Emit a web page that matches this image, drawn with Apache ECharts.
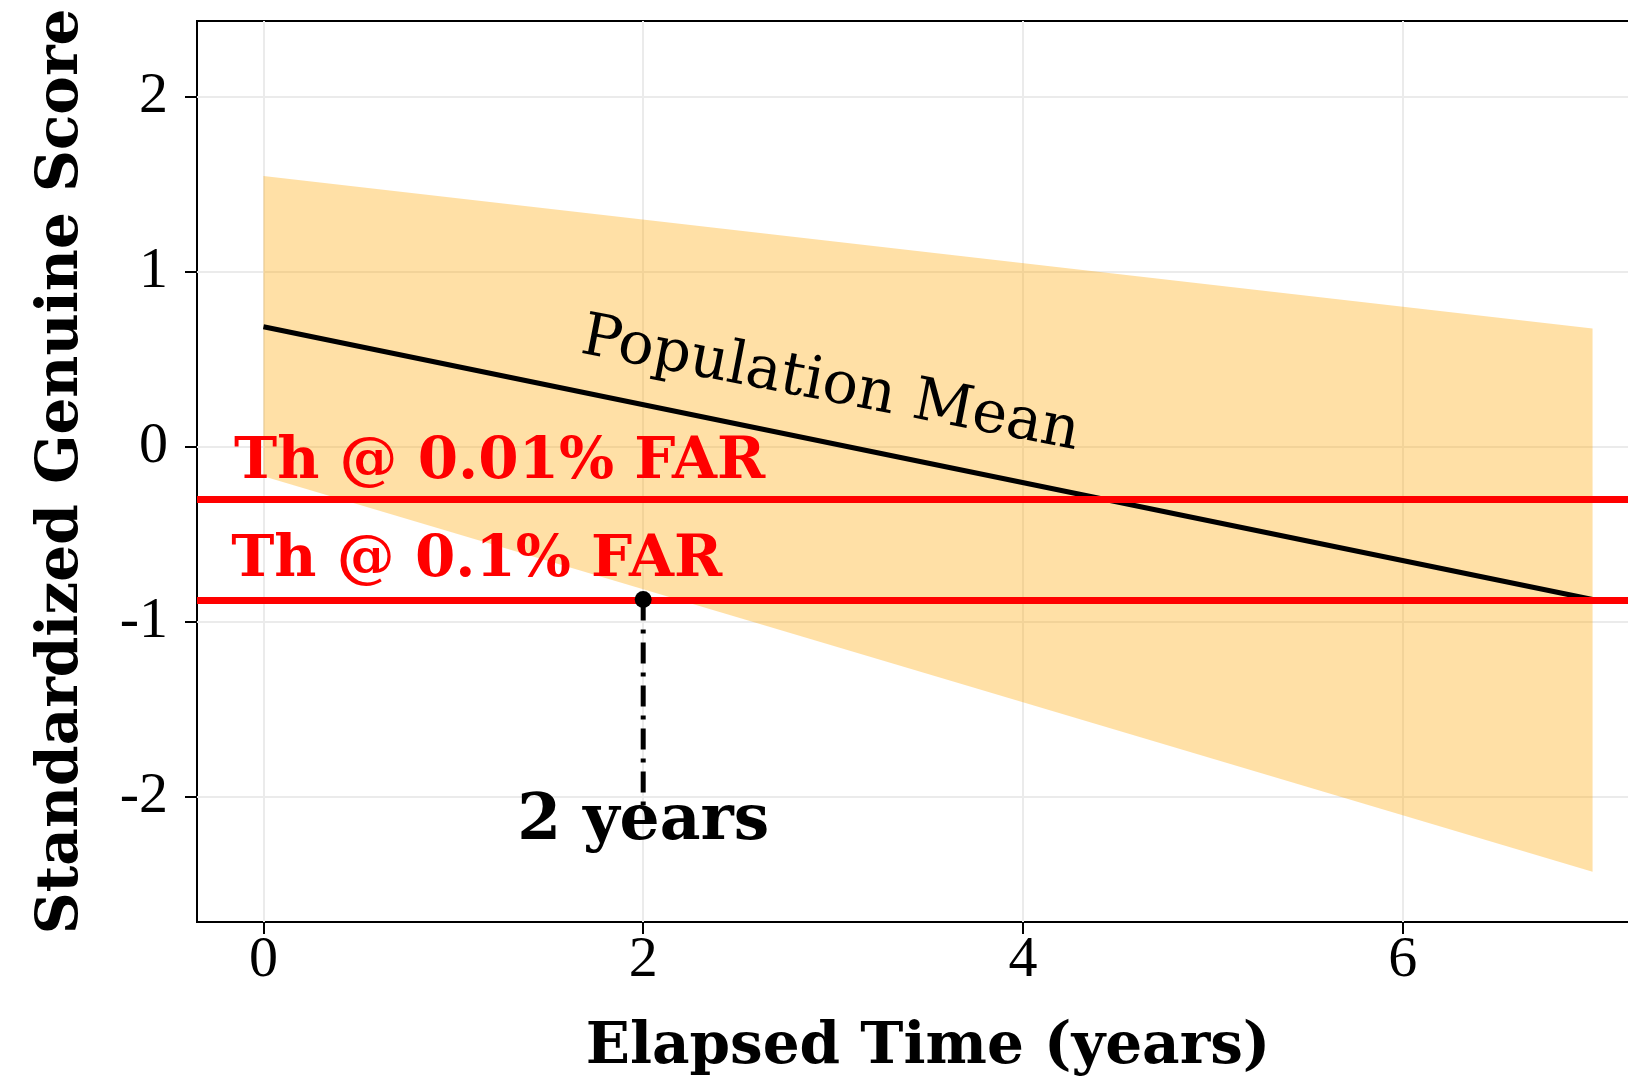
<!DOCTYPE html>
<html>
<head>
<meta charset="utf-8">
<script src="https://cdn.jsdelivr.net/npm/echarts@6/dist/echarts.min.js"></script>
<style>
  html, body { margin: 0; padding: 0; background: #ffffff; }
  #chart { width: 1628px; height: 1083px; }
</style>
</head>
<body>
<div id="chart"></div>
<script>
// Prediction band around the population mean trend
const bandX = [0, 7];
const bandUpper = [1.545, 0.673];
const bandLower = [-0.17, -2.43];

// Population mean trend
const meanX = [0, 7];
const meanY = [0.683, -0.875];

// Decision thresholds
const thresholds = [-0.30, -0.875];
const thresholdLabels = ['Th @ 0.01% FAR', 'Th @ 0.1% FAR'];
const thresholdLabelPos = [[-0.155, -0.095], [-0.17, -0.655]];

// Where the band's lower edge meets the 0.1% FAR threshold
const crossing = [2, -0.875];
const crossingDropTo = -2.05;
const crossingLabel = '2 years';
const crossingLabelPos = [2, -2.15];

const meanLabel = 'Population Mean';
const meanLabelPos = [2.985, 0.346];

// Axis ticks
const xTicks = [0, 2, 4, 6];
const yTicks = [-2, -1, 0, 1, 2];

const serif = 'DejaVu Serif';
const tickFont = 'Liberation Serif';

const chart = echarts.init(document.getElementById('chart'), null, { renderer: 'canvas' });

const labelSeries = (pos, text, extra) => ({
  type: 'scatter',
  symbolSize: 1,
  itemStyle: { color: 'rgba(0,0,0,0)', opacity: 1 },
  silent: true,
  z: 8,
  data: [{ value: pos }],
  label: Object.assign({
    show: true,
    position: 'inside',
    formatter: text,
    fontFamily: serif,
    opacity: 1
  }, extra)
});

chart.setOption({
  animation: false,
  backgroundColor: '#ffffff',
  grid: {
    left: 197, top: 21, width: 1462, bottom: 161,
    outerBoundsMode: 'none',
    containLabel: false,
    show: true, borderColor: '#000000', borderWidth: 2, backgroundColor: 'transparent'
  },
  xAxis: {
    type: 'value',
    min: -0.35, max: 7.35,
    axisLine: { show: false, onZero: false },
    axisTick: { show: true, customValues: xTicks, length: 12, lineStyle: { color: '#000', width: 2 } },
    axisLabel: { customValues: xTicks, margin: 10, color: '#000', fontFamily: tickFont, fontSize: 58 },
    splitLine: { show: true, lineStyle: { color: '#ebebeb', width: 2 } },
    name: 'Elapsed Time (years)',
    nameLocation: 'middle',
    nameGap: 97,
    nameTextStyle: { fontFamily: serif, fontWeight: 'bold', fontSize: 58, color: '#000' }
  },
  yAxis: {
    type: 'value',
    min: -2.717, max: 2.43,
    axisLine: { show: false, onZero: false },
    axisTick: { show: true, customValues: yTicks, length: 12, lineStyle: { color: '#000', width: 2 } },
    axisLabel: { customValues: yTicks, margin: 29, color: '#000', fontFamily: tickFont, fontSize: 58 },
    splitLine: { show: true, lineStyle: { color: '#ebebeb', width: 2 } },
    name: 'Standardized Genuine Score',
    nameLocation: 'middle',
    nameGap: 106,
    nameRotate: 90,
    nameTextStyle: { fontFamily: serif, fontWeight: 'bold', fontSize: 58, color: '#000' }
  },
  series: [
    {
      type: 'custom',
      name: 'band',
      silent: true,
      z: 1,
      data: bandX.map((x, i) => [x, bandLower[i], bandUpper[i]]),
      encode: { x: 0, y: [1, 2] },
      renderItem: (params, api) => {
        if (params.dataIndex !== 0) return null;
        const pts = [];
        for (let i = 0; i < bandX.length; i++) pts.push(api.coord([bandX[i], bandUpper[i]]));
        for (let i = bandX.length - 1; i >= 0; i--) pts.push(api.coord([bandX[i], bandLower[i]]));
        return { type: 'polygon', shape: { points: pts }, style: { fill: 'rgba(255,165,0,0.35)' } };
      }
    },
    {
      type: 'line',
      name: 'mean',
      z: 3,
      silent: true,
      showSymbol: false,
      data: meanX.map((x, i) => [x, meanY[i]]),
      lineStyle: { color: '#000', width: 5 },
      markLine: {
        silent: true,
        symbol: ['none', 'none'],
        label: { show: false },
        lineStyle: { color: '#ff0000', width: 7, type: 'solid', opacity: 1 },
        data: thresholds.map(v => ({ yAxis: v }))
      }
    },
    {
      type: 'line',
      name: 'drop',
      z: 6,
      silent: true,
      showSymbol: false,
      data: [crossing, [crossing[0], crossingDropTo]],
      lineStyle: { color: '#000', width: 5, type: [21, 9, 4, 9], cap: 'butt' }
    },
    {
      type: 'scatter',
      name: 'crossing',
      z: 7,
      silent: true,
      symbolSize: 17,
      itemStyle: { color: '#000', opacity: 1 },
      data: [crossing]
    },
    labelSeries(thresholdLabelPos[0], thresholdLabels[0], { align: 'left', fontWeight: 'bold', fontSize: 58, color: '#ff0000' }),
    labelSeries(thresholdLabelPos[1], thresholdLabels[1], { align: 'left', fontWeight: 'bold', fontSize: 58, color: '#ff0000' }),
    labelSeries(crossingLabelPos, crossingLabel, { align: 'center', fontWeight: 'bold', fontSize: 63, color: '#000' }),
    labelSeries(meanLabelPos, meanLabel, { align: 'center', fontSize: 59, color: '#000', rotate: -11 })
  ]
});
</script>
</body>
</html>
